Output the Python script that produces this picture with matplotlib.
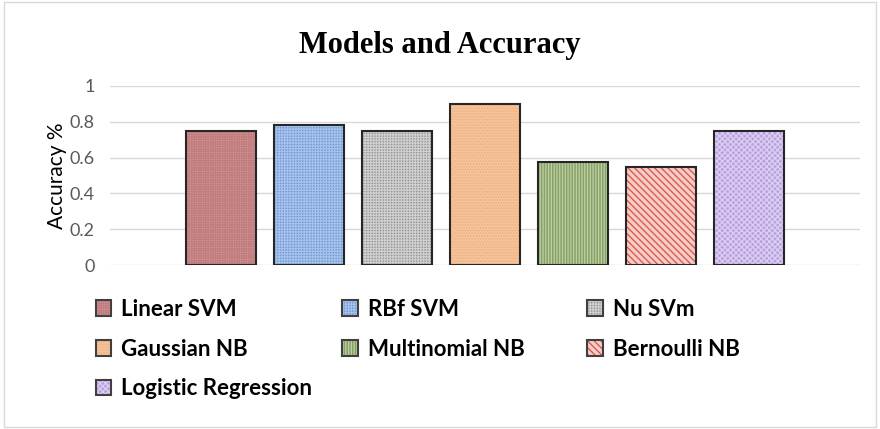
import matplotlib
matplotlib.use("Agg")
import matplotlib.pyplot as plt
from matplotlib.patches import Patch, Rectangle
from matplotlib.legend_handler import HandlerTuple

# data
models = ["Linear SVM", "RBf SVM", "Nu SVm", "Gaussian NB",
          "Multinomial NB", "Bernoulli NB", "Logistic Regression"]
accuracy = [0.75, 0.78, 0.75, 0.90, 0.575, 0.55, 0.75]
yticks = [0, 0.2, 0.4, 0.6, 0.8, 1]
ytick_labels = ["0", "0.2", "0.4", "0.6", "0.8", "1"]

# fill styles (face, hatch color, hatch)
faces = ["#d39a9a", "#6d98d6", "#959595", "#f6c59b", "#88a266", "#f5cdc6", "#b9a2e0"]
hatch_cols = ["#c27e7e", "#a6c1ea", "#cfcfcf", "#eeae82", "#bdcfa5", "#da5048", "#dccff2"]
hatches = ["+++++++", "++++++", "++++++", "......", "||||||", "\\\\\\\\\\", "xxxxxx"]

plt.rcParams["hatch.linewidth"] = 0.9

fig = plt.figure(figsize=(8.8, 4.29), dpi=100)
ax = fig.add_axes([0.125, 0.382, 0.852, 0.4177])

x = list(range(len(models)))
for i in x:
    ax.bar(i, accuracy[i], width=0.795, color=faces[i], hatch=hatches[i],
           edgecolor=hatch_cols[i], linewidth=0, zorder=2)
    ax.bar(i, accuracy[i], width=0.795, fill=False, edgecolor="#262626",
           linewidth=1.5, zorder=3)

ax.set_xlim(-1.26, 7.26)
ax.set_ylim(0, 1)
ax.set_yticks(yticks)
ax.set_yticklabels(ytick_labels, fontsize=13, color="#595959", family="Lato")
ax.tick_params(axis="y", length=0, pad=11)
ax.set_xticks([])
ax.grid(axis="y", color="#d9d9d9", linewidth=1, zorder=0)
for s in ax.spines.values():
    s.set_visible(False)
ax.set_ylabel("Accuracy %", fontsize=15, family="Lato", color="black", labelpad=2)

fig.text(0.5, 0.893, "Models and Accuracy", ha="center", va="center",
         fontsize=22, fontweight="bold", family="Liberation Serif")

# legend, one column at a time
handles = []
for i in x:
    handles.append((Patch(facecolor=faces[i], hatch=hatches[i], edgecolor=hatch_cols[i], linewidth=0),
                    Patch(fill=False, edgecolor="#404040", linewidth=1.5)))

columns = [[0, 3, 6], [1, 4], [2, 5]]
col_x = [0.109, 0.389, 0.667]
for cx, idx in zip(col_x, columns):
    fig.legend([handles[k] for k in idx], [models[k] for k in idx],
               loc="upper left", bbox_to_anchor=(cx, 0.303), frameon=False,
               handler_map={tuple: HandlerTuple(ndivide=1)},
               prop={"family": "Lato", "weight": "bold", "size": 16},
               handlelength=0.7, handleheight=0.7, handletextpad=0.45,
               labelspacing=0.84, borderpad=0, borderaxespad=0)

fig.patches.append(Rectangle((0.005, 0.005), 0.99, 0.99, transform=fig.transFigure,
                             fill=False, edgecolor="#d9d9d9", linewidth=1))

fig.savefig("out.png", dpi=100)
